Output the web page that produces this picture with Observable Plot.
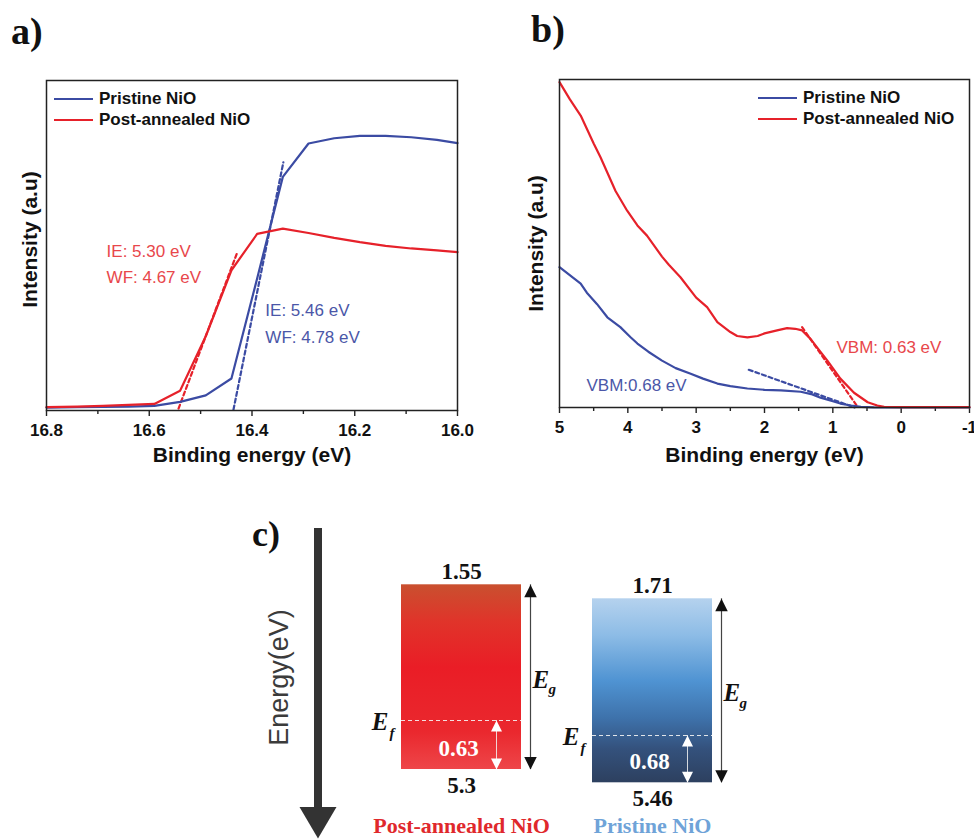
<!DOCTYPE html>
<html><head><meta charset="utf-8">
<script src="https://cdn.jsdelivr.net/npm/d3@7"></script>
<script src="https://cdn.jsdelivr.net/npm/@observablehq/plot@0.6"></script>
<style>
html,body{margin:0;padding:0;background:#fff;}
#fig{position:relative;width:974px;height:839px;overflow:hidden;background:#fff;}
.pl{position:absolute;font-family:"Liberation Serif","Times New Roman",serif;font-weight:bold;font-size:38px;line-height:1;color:#111;}
.legend{position:absolute;font:bold 17px "Liberation Sans",Arial,sans-serif;color:#111;}
.legend .row{display:flex;align-items:center;height:21px;white-space:nowrap;}
.legend .sw{display:inline-block;width:39px;height:2.5px;margin-right:6px;}
</style></head><body>
<div id="fig">
  <div class="pl" style="left:11px;top:12px;">a)</div>
  <div class="pl" style="left:531px;top:10px;">b)</div>
  <div class="pl" style="left:252px;top:516px;font-size:36px;">c)</div>
</div>
<script>
// ---------------- data ----------------
const seriesNames = ["Pristine NiO", "Post-annealed NiO"];

// panel a: secondary-electron cutoff
const aEnergy   = [16.8, 16.74, 16.69, 16.64, 16.59, 16.54, 16.49, 16.44, 16.39, 16.34, 16.29, 16.24, 16.19, 16.14, 16.09, 16.04, 16.0];
const aPristine = [0.9, 1.0, 1.1, 1.2, 1.4, 2.6, 4.6, 9.7, 40.0, 70.8, 80.9, 82.5, 83.2, 83.2, 82.8, 82.0, 81.0];
const aAnnealed = [1.0, 1.2, 1.4, 1.7, 2.0, 6.0, 22.5, 42.5, 53.5, 55.1, 53.8, 52.3, 51.0, 49.9, 49.1, 48.5, 48.0];
const aFitPristineX = [16.436, 16.339];
const aFitPristineY = [0.3, 75.2];
const aFitAnnealedX = [16.543, 16.428];
const aFitAnnealedY = [0.6, 48.2];
const aMajorTicks = [16.8, 16.6, 16.4, 16.2, 16.0];
const aMinorTicks = [16.7, 16.5, 16.3, 16.1];
const aNotes      = ["IE: 5.30 eV", "WF: 4.67 eV", "IE: 5.46 eV", "WF: 4.78 eV"];
const aNoteX      = [16.683, 16.683, 16.374, 16.374];
const aNoteY      = [48.2, 40.3, 30.3, 22.1];
const aNoteSeries = ["Post-annealed NiO", "Post-annealed NiO", "Pristine NiO", "Pristine NiO"];

// panel b: valence band region
const bEnergyAnnealed = [5.0, 4.85, 4.69, 4.5, 4.4, 4.18, 4.01, 3.86, 3.72, 3.5, 3.4, 3.23, 3.0, 2.84, 2.69, 2.5, 2.4, 2.25, 2.1, 2.0, 1.8, 1.67, 1.55, 1.45, 1.33, 1.2, 1.08, 0.89, 0.69, 0.49, 0.35, 0.25, 0.0, -1.0];
const bAnnealed       = [99.2, 94.0, 89.0, 80.5, 76.3, 66.0, 60.0, 55.5, 52.4, 46.0, 43.5, 39.7, 33.5, 30.6, 26.0, 23.0, 21.8, 21.4, 21.8, 22.6, 23.6, 24.2, 24.0, 23.5, 21.0, 17.5, 14.3, 8.8, 4.5, 1.6, 0.6, 0.2, 0.1, 0.1];
const bEnergyPristine = [5.0, 4.69, 4.6, 4.45, 4.3, 4.11, 3.96, 3.86, 3.7, 3.5, 3.3, 3.08, 2.9, 2.69, 2.5, 2.25, 2.0, 1.76, 1.47, 1.3, 1.18, 1.0, 0.89, 0.73, 0.59, 0.4, 0.0, -1.0];
const bPristine       = [42.8, 37.8, 35.0, 31.5, 27.5, 24.5, 21.4, 19.5, 17.0, 14.3, 12.0, 10.3, 8.8, 7.3, 6.5, 5.8, 5.4, 5.2, 4.8, 4.0, 3.0, 1.9, 1.2, 0.6, 0.2, 0.05, 0.0, 0.0];
const bFitPristineX = [2.23, 0.68];
const bFitPristineY = [11.5, 0.0];
const bFitAnnealedX = [1.45, 0.63];
const bFitAnnealedY = [24.5, 0.0];
const bMajorTicks = [5, 4, 3, 2, 1, 0, -1];
const bMinorTicks = [4.5, 3.5, 2.5, 1.5, 0.5, -0.5];
const bNotes      = ["VBM: 0.63 eV", "VBM:0.68 eV"];
const bNoteX      = [0.946, 4.605];
const bNoteY      = [18.4, 6.7];
const bNoteSeries = ["Post-annealed NiO", "Pristine NiO"];

// panel c: energy level diagram
const cMaterials = ["Post-annealed NiO", "Pristine NiO"];
const cCBM       = [1.55, 1.71];
const cVBM       = [5.3, 5.46];
const cEf        = [4.67, 4.78];
const cOffset    = [0.63, 0.68];

// ---------------- styles ----------------
const colors = {"Pristine NiO": "#3b4ba3", "Post-annealed NiO": "#e6212a"};
const noteColors = {"Pristine NiO": "#4b57a8", "Post-annealed NiO": "#e8474b"};
const nameColors = {"Pristine NiO": "#6fa3d8", "Post-annealed NiO": "#e0282c"};
const sans = "'Liberation Sans', Arial, sans-serif";
const serif = "'Liberation Serif', 'Times New Roman', serif";

const fig = document.getElementById("fig");
function place(svg, left, top) {
  svg.style.position = "absolute";
  svg.style.left = left + "px";
  svg.style.top = top + "px";
  svg.style.maxWidth = "none";
  svg.style.overflow = "visible";
  svg.style.background = "transparent";
  fig.appendChild(svg);
}
function legend(left, top) {
  const d = document.createElement("div");
  d.className = "legend";
  d.style.left = left + "px"; d.style.top = top + "px";
  for (const n of seriesNames) {
    const r = document.createElement("div"); r.className = "row";
    const s = document.createElement("span"); s.className = "sw"; s.style.background = colors[n];
    r.appendChild(s); r.appendChild(document.createTextNode(n)); d.appendChild(r);
  }
  fig.appendChild(d);
}

// ---------------- panel a ----------------
const aData = [
  ...aEnergy.map((e, i) => ({series: "Pristine NiO", e, v: aPristine[i]})),
  ...aEnergy.map((e, i) => ({series: "Post-annealed NiO", e, v: aAnnealed[i]}))
];
const aFits = [
  ...aFitPristineX.map((e, i) => ({series: "Pristine NiO", e, v: aFitPristineY[i]})),
  ...aFitAnnealedX.map((e, i) => ({series: "Post-annealed NiO", e, v: aFitAnnealedY[i]}))
];
const aNoteData = aNotes.map((t, i) => ({t, e: aNoteX[i], v: aNoteY[i], series: aNoteSeries[i]}));

function panelMarks(data, fits, notes, major, minor, fmt, yTitleDx, yTitleDy, xTitleDy) {
  return [
    Plot.axisX({ticks: minor, tickSize: 4, tickFormat: () => "", label: null, stroke: "#222", strokeWidth: 1.4}),
    Plot.axisX({ticks: major, tickSize: 6, tickPadding: 7, tickFormat: fmt, label: null, stroke: "#222", strokeWidth: 1.4,
      fontSize: 17, fontWeight: "bold", fontFamily: sans, fill: "#111"}),
    Plot.line(fits, {x: "e", y: "v", z: "series", stroke: d => colors[d.series], strokeWidth: 2.2, strokeDasharray: "4,3"}),
    Plot.line(data, {x: "e", y: "v", z: "series", stroke: d => colors[d.series], strokeWidth: 2.2}),
    Plot.frame({stroke: "#222", strokeWidth: 1.5}),
    Plot.text(notes, {x: "e", y: "v", text: "t", fill: d => noteColors[d.series], textAnchor: "start",
      fontSize: 17, fontFamily: sans, fontWeight: "normal"}),
    Plot.text(["Intensity (a.u)"], {text: d => d, frameAnchor: "left", textAnchor: "middle", lineAnchor: "middle",
      rotate: -90, dx: yTitleDx, dy: yTitleDy, fontSize: 21, fontWeight: "bold", fontFamily: sans, fill: "#111"}),
    Plot.text(["Binding energy (eV)"], {text: d => d, frameAnchor: "bottom", textAnchor: "middle", lineAnchor: "middle",
      dy: xTitleDy, fontSize: 21, fontWeight: "bold", fontFamily: sans, fill: "#111"})
  ];
}

const plotA = Plot.plot({
  width: 487, height: 480,
  marginLeft: 46, marginRight: 30, marginTop: 80, marginBottom: 70,
  x: {domain: [16.8, 16.0]},
  y: {domain: [0, 100], axis: null},
  color: {type: "identity"},
  style: {fontFamily: sans, background: "transparent"},
  marks: panelMarks(aData, aFits, aNoteData, aMajorTicks, aMinorTicks, d3.format(".1f"), -16, -6, 45)
});
place(plotA, 0, 0);
legend(54, 88.5);

// ---------------- panel b ----------------
const bData = [
  ...bEnergyPristine.map((e, i) => ({series: "Pristine NiO", e, v: bPristine[i]})),
  ...bEnergyAnnealed.map((e, i) => ({series: "Post-annealed NiO", e, v: bAnnealed[i]}))
];
const bFits = [
  ...bFitPristineX.map((e, i) => ({series: "Pristine NiO", e, v: bFitPristineY[i]})),
  ...bFitAnnealedX.map((e, i) => ({series: "Post-annealed NiO", e, v: bFitAnnealedY[i]}))
];
const bNoteData = bNotes.map((t, i) => ({t, e: bNoteX[i], v: bNoteY[i], series: bNoteSeries[i]}));

const plotB = Plot.plot({
  width: 487, height: 480,
  marginLeft: 72, marginRight: 5, marginTop: 79, marginBottom: 73,
  x: {domain: [5, -1]},
  y: {domain: [0, 100], axis: null},
  color: {type: "identity"},
  style: {fontFamily: sans, background: "transparent"},
  marks: panelMarks(bData, bFits, bNoteData, bMajorTicks, bMinorTicks, d => String(d), -23, 0, 48)
});
place(plotB, 487, 0);
legend(758, 87.5);

// ---------------- panel c ----------------
const cLevels = cMaterials.map((name, i) => ({name, cbm: cCBM[i], vbm: cVBM[i], ef: cEf[i], off: cOffset[i]}));
const tipUp = {draw(ctx, size) { const r = Math.sqrt(size / Math.PI), w = r * 1.25, h = r * 2.5; ctx.moveTo(0, 0); ctx.lineTo(w, h); ctx.lineTo(-w, h); ctx.closePath(); }};
const tipDown = {draw(ctx, size) { const r = Math.sqrt(size / Math.PI), w = r * 1.25, h = r * 2.5; ctx.moveTo(0, 0); ctx.lineTo(w, -h); ctx.lineTo(-w, -h); ctx.closePath(); }};
const gradIds = ["gradAnnealed", "gradPristine"];

const cMarks = [];
cLevels.forEach((d, i) => cMarks.push(Plot.barY([d], {x: "name", y1: "cbm", y2: "vbm", fill: `url(#${gradIds[i]})`})));
cMarks.push(
  Plot.tickY(cLevels, {x: "name", y: "ef", stroke: "#f4f4f4", strokeWidth: 1.2, strokeDasharray: "4,3", strokeOpacity: 0.9}),
  Plot.ruleX(cLevels, {x: "name", y1: "cbm", y2: "vbm", dx: 69, stroke: "#444", strokeWidth: 1.2}),
  Plot.dot(cLevels, {x: "name", y: "cbm", dx: 69, symbol: tipUp, r: 5, fill: "#111", stroke: "none"}),
  Plot.dot(cLevels, {x: "name", y: "vbm", dx: 69, symbol: tipDown, r: 5, fill: "#111", stroke: "none"}),
  Plot.ruleX(cLevels, {x: "name", y1: "ef", y2: "vbm", dx: 35, stroke: "#f2f2f2", strokeWidth: 1, strokeOpacity: 0.85}),
  Plot.dot(cLevels, {x: "name", y: "ef", dx: 35, symbol: tipUp, r: 4.4, fill: "#fff", stroke: "none"}),
  Plot.dot(cLevels, {x: "name", y: "vbm", dx: 35, symbol: tipDown, r: 4.4, fill: "#fff", stroke: "none"}),
  Plot.text(cLevels, {x: "name", y: "cbm", text: d => String(d.cbm), dy: -13, fontSize: 23, fontWeight: "bold", fontFamily: serif, fill: "#111"}),
  Plot.text(cLevels, {x: "name", y: "vbm", text: d => String(d.vbm), dy: 16, fontSize: 23, fontWeight: "bold", fontFamily: serif, fill: "#111"}),
  Plot.text(cLevels, {x: "name", y: "vbm", text: d => d.off.toFixed(2), dx: -3, dy: -21, fontSize: 23, fontWeight: "bold", fontFamily: serif, fill: "#fff"}),
  Plot.text(cLevels, {x: "name", y: "vbm", text: () => "E", dx: 71, dy: -90, textAnchor: "start", fontSize: 25, fontWeight: "bold", fontStyle: "italic", fontFamily: serif, fill: "#111"}),
  Plot.text(cLevels, {x: "name", y: "vbm", text: () => "g", dx: 87, dy: -80, textAnchor: "start", fontSize: 15, fontWeight: "bold", fontStyle: "italic", fontFamily: serif, fill: "#111"}),
  Plot.text(cLevels, {x: "name", y: "ef", text: () => "E", dx: -73, dy: 1, textAnchor: "end", fontSize: 25, fontWeight: "bold", fontStyle: "italic", fontFamily: serif, fill: "#111"}),
  Plot.text(cLevels, {x: "name", y: "ef", text: () => "f", dx: -72, dy: 13, textAnchor: "start", fontSize: 15, fontWeight: "bold", fontStyle: "italic", fontFamily: serif, fill: "#111"}),
  Plot.text(["Energy(eV)"], {text: d => d, frameAnchor: "top-left", textAnchor: "middle", lineAnchor: "middle",
    dx: 279, dy: 177, rotate: -90, fontSize: 27, fontFamily: sans, fill: "#3b3b3b"})
);
cLevels.forEach((d, i) => cMarks.push(Plot.text([d], {x: "name", text: "name", frameAnchor: "bottom", lineAnchor: "middle", dy: -14, fontSize: 22, fontWeight: "bold", fontFamily: serif, fill: nameColors[d.name]})));

const yLevels = d3.sort([...cCBM, ...cEf, ...cVBM]);
const plotC = Plot.plot({
  width: 974, height: 339,
  marginLeft: 0, marginRight: 0, marginTop: 0, marginBottom: 0,
  x: {type: "band", domain: cMaterials, range: [400.7, 712.7], paddingInner: 0.37, paddingOuter: 0, axis: null},
  y: {type: "linear", domain: yLevels, range: [84.3, 98.3, 220, 235, 269, 282.3], axis: null},
  style: {fontFamily: sans, background: "transparent"},
  marks: cMarks
});
// gradients + energy-direction arrow
const NS = "http://www.w3.org/2000/svg";
const defs = document.createElementNS(NS, "defs");
const gradStops = {
  gradAnnealed: [[0, "#c9502f"], [0.2, "#e0342a"], [0.45, "#ea1d26"], [0.8, "#ea282e"], [1, "#ee4649"]],
  gradPristine: [[0, "#b5d2ee"], [0.2, "#8dbce6"], [0.45, "#4f93d2"], [0.65, "#3e72ab"], [0.82, "#34517c"], [1, "#2d405f"]]
};
for (const id of gradIds) {
  const g = document.createElementNS(NS, "linearGradient");
  g.setAttribute("id", id); g.setAttribute("x1", "0"); g.setAttribute("y1", "0"); g.setAttribute("x2", "0"); g.setAttribute("y2", "1");
  for (const [o, c] of gradStops[id]) {
    const s = document.createElementNS(NS, "stop");
    s.setAttribute("offset", o); s.setAttribute("stop-color", c); g.appendChild(s);
  }
  defs.appendChild(g);
}
plotC.insertBefore(defs, plotC.firstChild);
const arrowG = document.createElementNS(NS, "g");
const shaft = document.createElementNS(NS, "line");
shaft.setAttribute("x1", 318); shaft.setAttribute("x2", 318); shaft.setAttribute("y1", 28); shaft.setAttribute("y2", 310);
shaft.setAttribute("stroke", "#333"); shaft.setAttribute("stroke-width", 8);
const head = document.createElementNS(NS, "polygon");
head.setAttribute("points", "299.5,307 336.5,307 318,338.5"); head.setAttribute("fill", "#333");
arrowG.appendChild(shaft); arrowG.appendChild(head);
plotC.appendChild(arrowG);
place(plotC, 0, 500);
</script>
</body></html>
